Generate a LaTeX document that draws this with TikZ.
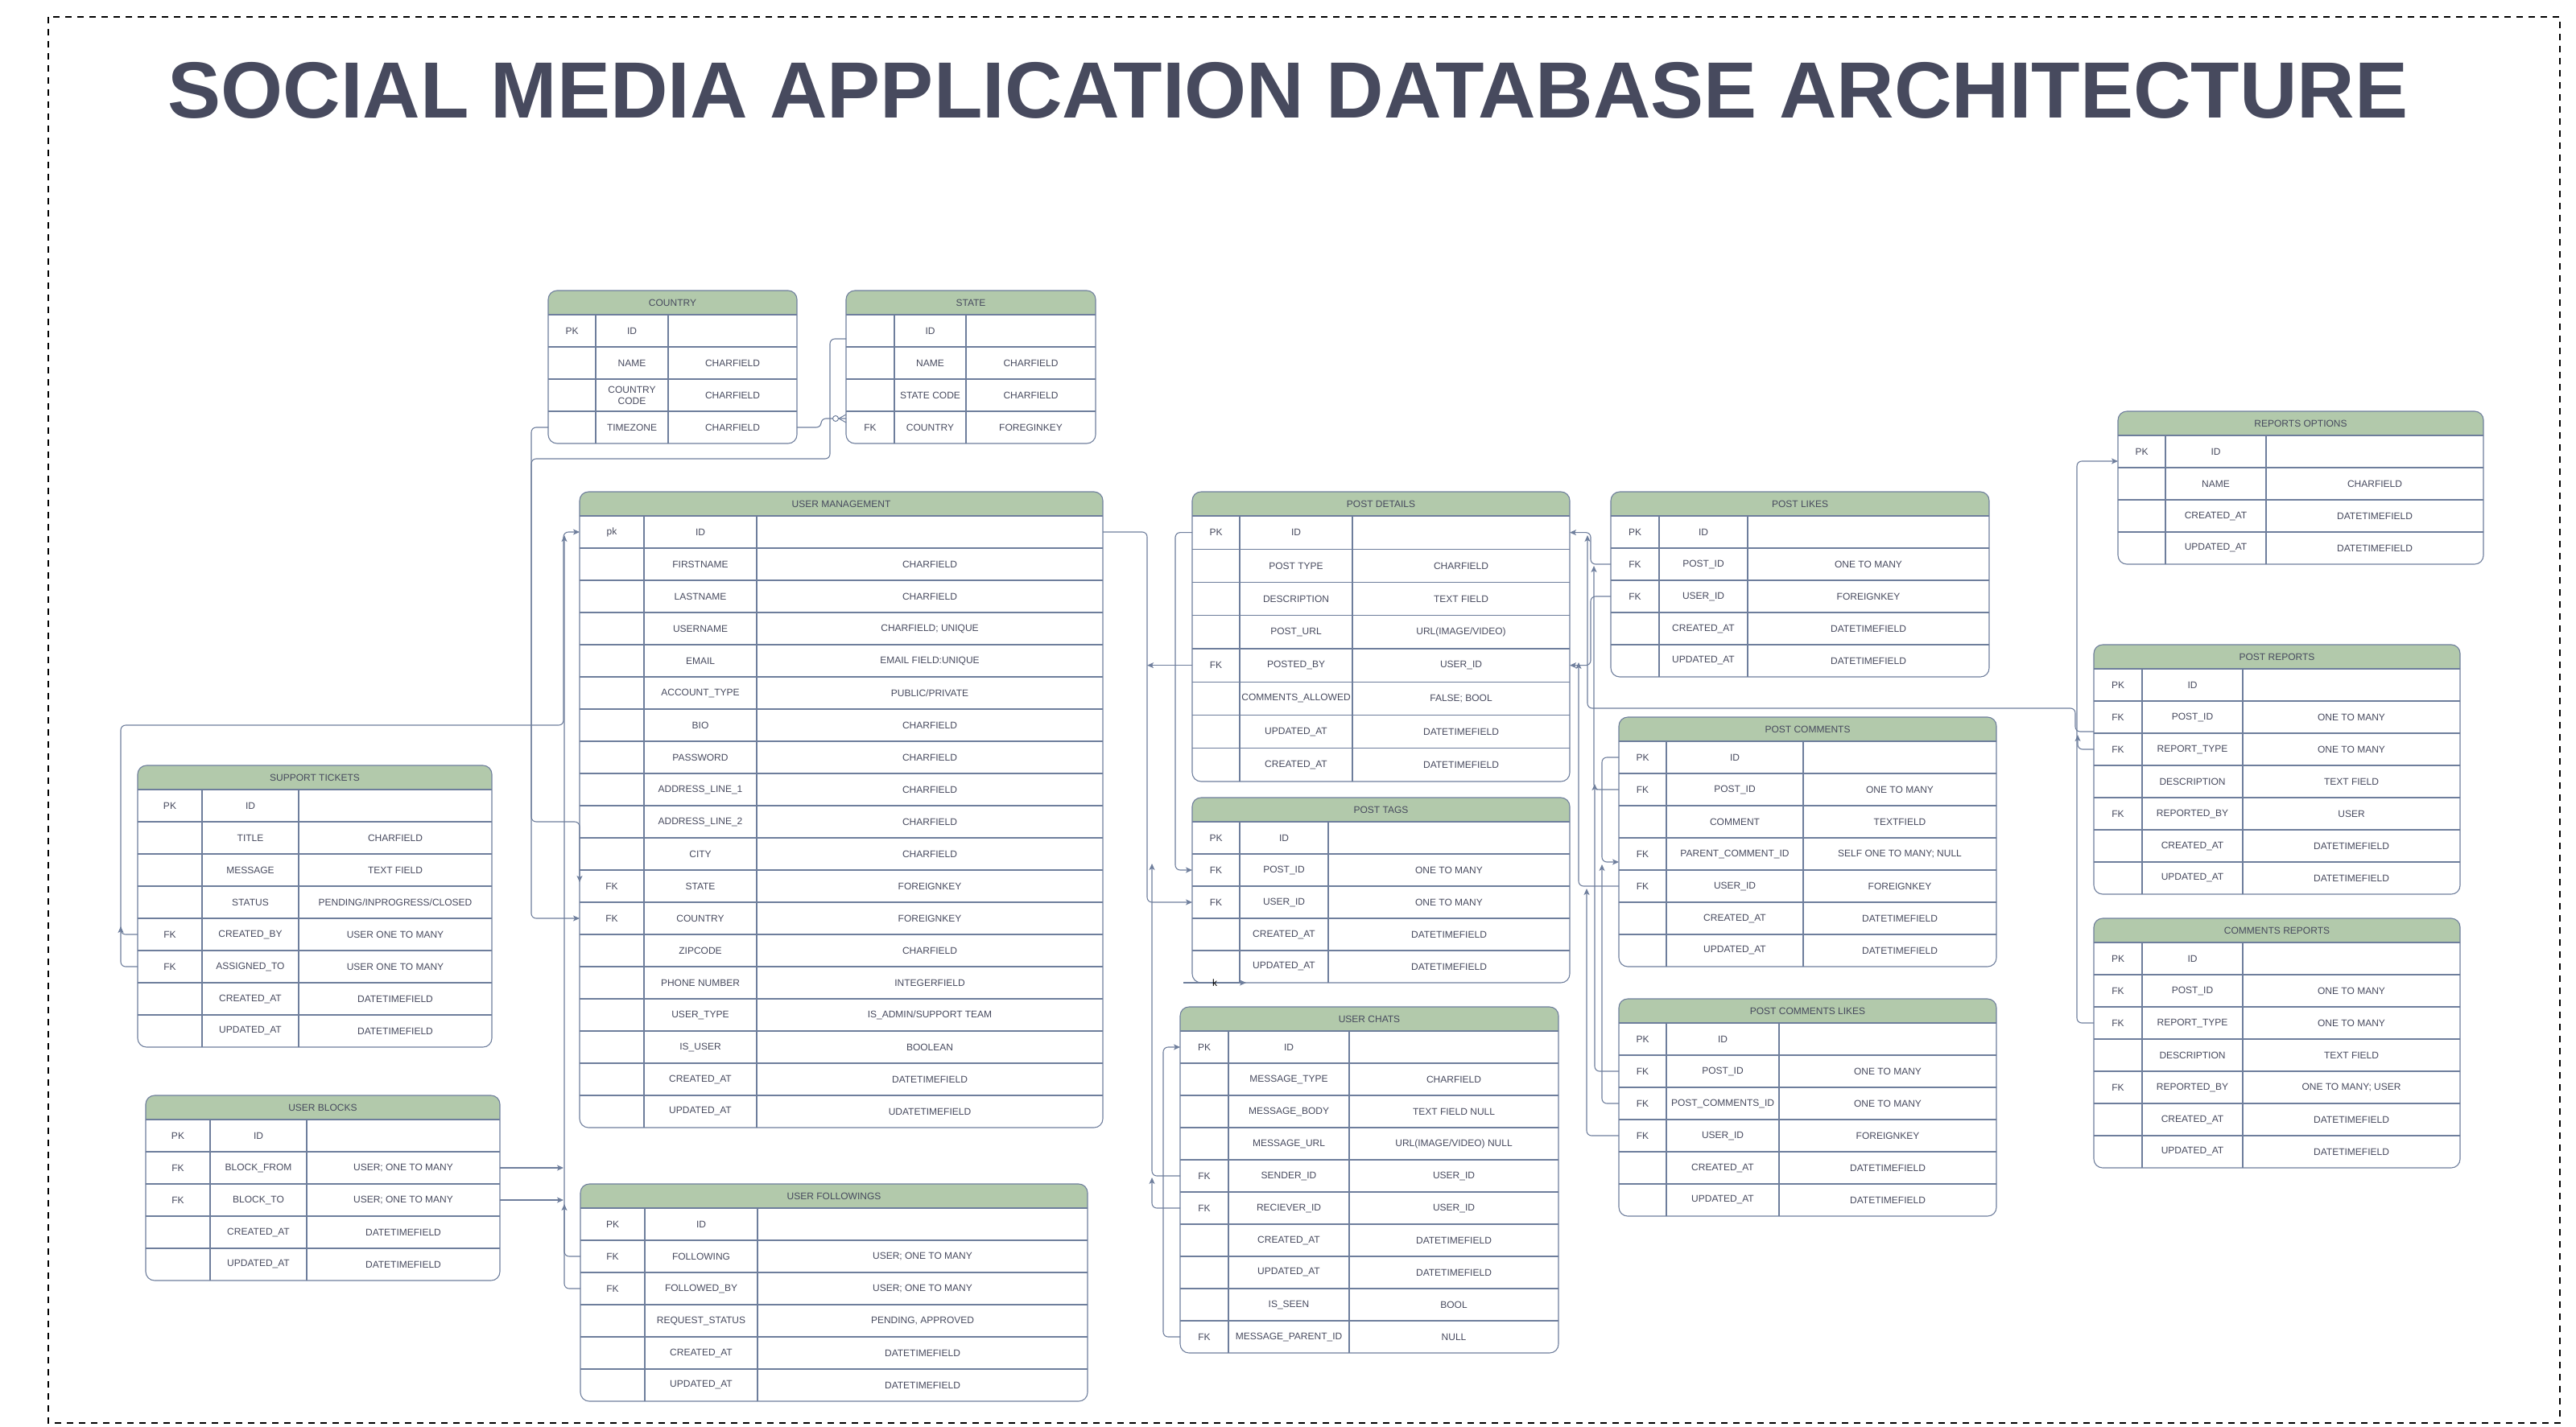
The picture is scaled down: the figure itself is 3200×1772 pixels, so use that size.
\documentclass[tikz,border=0pt]{standalone}
\usepackage{fontspec}
\setmainfont{Liberation Sans}
\usetikzlibrary{arrows.meta}
\definecolor{MyLine}{HTML}{6E7E9C}
\definecolor{MyHead}{HTML}{B2C9AB}
\definecolor{MyText}{HTML}{474A5E}
\newcommand{\cellfont}{\fontsize{12}{14}\selectfont}
\tikzset{%
  connector/.style={draw=MyLine, line width=1.1pt, rounded corners=6pt},
  link/.style={connector, -{Stealth[length=8pt,width=7pt,inset=2pt]}},
  tblline/.style={draw=MyLine, line width=1.1pt},
  tblcell/.style={inner sep=1pt, outer sep=0pt, align=center, text=MyText, font=\cellfont},
  tblhead/.style={tblcell, minimum height=30pt},
  bigtitle/.style={font=\fontsize{99}{110}\selectfont\bfseries, text=MyText, inner sep=0pt},
  pageframe/.style={draw=black, line width=2.5pt, dash pattern=on 8pt off 7pt}
}
% #1 name, #2 x, #3 y, #4 #5 #6 column widths, #7 row height, #8 title, #9 rows
\newcommand{\dbtable}[9]{%
  \begin{scope}
    \clip[rounded corners=11pt] (#2,#3) rectangle ++({#4+#5+#6},60);
    \fill[MyHead] (#2,#3) rectangle ++({#4+#5+#6},30);
  \end{scope}
  \node[tblhead, minimum width={(#4+#5+#6)*1pt}, anchor=north west] (#1) at (#2,#3) {#8};
  \foreach \dkey/\dfield/\dtype [count=\rownum] in {#9} {
    \node[tblcell, minimum width=#4pt, minimum height=#7pt, anchor=north west]
      (#1-\rownum) at (#2,{#3+30+(\rownum-1)*#7}) {\dkey};
    \node[tblcell, minimum width=#5pt, minimum height=#7pt, anchor=west]
      (#1-\rownum-f) at (#1-\rownum.east) {\dfield};
    \node[tblcell, minimum width=#6pt, minimum height=#7pt, anchor=west]
      (#1-\rownum-t) at (#1-\rownum-f.east) {\dtype};
    \draw[tblline] (#1-\rownum.north west) -- (#1-\rownum-t.north east);
    \draw[tblline] (#1-\rownum-f.north west) -- (#1-\rownum-f.south west)
                   (#1-\rownum-f.north east) -- (#1-\rownum-f.south east);
    \xdef\dblast{\rownum}
  }
  \draw[tblline, rounded corners=11pt] (#1.north west) rectangle (#1-\dblast-t.south east);
}

\begin{document}
\begin{tikzpicture}[x=1pt, y=-1pt]

 \useasboundingbox (0,0) rectangle (3200,1772);
 \draw[pageframe] (60,21) rectangle (3180,1768);

 \node[bigtitle, anchor=base] (heading) at (1600,146) {SOCIAL MEDIA APPLICATION DATABASE ARCHITECTURE};

 % location tables
 \dbtable{country}{681}{361}{59}{90}{160}{40}{COUNTRY}{PK/ID/{}, {}/NAME/CHARFIELD,
   {}/{COUNTRY\\CODE}/CHARFIELD, {}/TIMEZONE/CHARFIELD}
 \dbtable{state}{1051}{361}{60}{89}{161}{40}{STATE}{{}/ID/{}, {}/NAME/CHARFIELD,
   {}/STATE CODE/CHARFIELD, FK/COUNTRY/FOREGINKEY}

 % users
 \dbtable{um}{720}{611}{80}{140}{430}{40}{USER MANAGEMENT}{pk/ID/{},
   {}/FIRSTNAME/CHARFIELD, {}/LASTNAME/CHARFIELD, {}/USERNAME/{CHARFIELD; UNIQUE},
   {}/EMAIL/{EMAIL FIELD:UNIQUE}, {}/ACCOUNT\_TYPE/{PUBLIC/PRIVATE}, {}/BIO/CHARFIELD,
   {}/PASSWORD/CHARFIELD, {}/ADDRESS\_LINE\_1/CHARFIELD, {}/ADDRESS\_LINE\_2/CHARFIELD,
   {}/CITY/CHARFIELD, FK/STATE/FOREIGNKEY, FK/COUNTRY/FOREIGNKEY, {}/ZIPCODE/CHARFIELD,
   {}/PHONE NUMBER/INTEGERFIELD, {}/USER\_TYPE/{IS\_ADMIN/SUPPORT TEAM},
   {}/IS\_USER/BOOLEAN, {}/CREATED\_AT/DATETIMEFIELD, {}/UPDATED\_AT/UDATETIMEFIELD}
 \dbtable{st}{171}{951}{80}{120}{240}{40}{SUPPORT TICKETS}{PK/ID/{},
   {}/TITLE/CHARFIELD, {}/MESSAGE/TEXT FIELD, {}/STATUS/{PENDING/INPROGRESS/CLOSED},
   FK/CREATED\_BY/USER ONE TO MANY, FK/ASSIGNED\_TO/USER ONE TO MANY,
   {}/CREATED\_AT/DATETIMEFIELD, {}/UPDATED\_AT/DATETIMEFIELD}
 \dbtable{ub}{181}{1361}{80}{120}{240}{40}{USER BLOCKS}{PK/ID/{},
   FK/BLOCK\_FROM/USER; ONE TO MANY, FK/BLOCK\_TO/USER; ONE TO MANY,
   {}/CREATED\_AT/DATETIMEFIELD, {}/UPDATED\_AT/DATETIMEFIELD}
 \dbtable{uf}{721}{1471}{80}{140}{410}{40}{USER FOLLOWINGS}{PK/ID/{},
   FK/FOLLOWING/USER; ONE TO MANY, FK/FOLLOWED\_BY/USER; ONE TO MANY,
   {}/REQUEST\_STATUS/{PENDING, APPROVED}, {}/CREATED\_AT/DATETIMEFIELD,
   {}/UPDATED\_AT/DATETIMEFIELD}

 % posts and chats
 \dbtable{pd}{1481}{611}{59}{140}{270}{41.25}{POST DETAILS}{PK/ID/{},
   {}/POST TYPE/CHARFIELD, {}/DESCRIPTION/TEXT FIELD, {}/POST\_URL/{URL(IMAGE/VIDEO)},
   FK/POSTED\_BY/USER\_ID, {}/COMMENTS\_ALLOWED/FALSE; BOOL,
   {}/UPDATED\_AT/DATETIMEFIELD, {}/CREATED\_AT/DATETIMEFIELD}
 \dbtable{pt}{1481}{991}{59}{110}{300}{40}{POST TAGS}{PK/ID/{},
   FK/POST\_ID/ONE TO MANY, FK/USER\_ID/ONE TO MANY,
   {}/CREATED\_AT/DATETIMEFIELD, {}/UPDATED\_AT/DATETIMEFIELD}
 \dbtable{uc}{1466}{1251}{60}{150}{260}{40}{USER CHATS}{PK/ID/{},
   {}/MESSAGE\_TYPE/CHARFIELD, {}/MESSAGE\_BODY/TEXT FIELD NULL,
   {}/MESSAGE\_URL/{URL(IMAGE/VIDEO) NULL}, FK/SENDER\_ID/USER\_ID,
   FK/RECIEVER\_ID/USER\_ID, {}/CREATED\_AT/DATETIMEFIELD, {}/UPDATED\_AT/DATETIMEFIELD,
   {}/IS\_SEEN/BOOL, FK/MESSAGE\_PARENT\_ID/NULL}
 \dbtable{pl}{2001}{611}{60}{110}{300}{40}{POST LIKES}{PK/ID/{},
   FK/POST\_ID/ONE TO MANY, FK/USER\_ID/FOREIGNKEY,
   {}/CREATED\_AT/DATETIMEFIELD, {}/UPDATED\_AT/DATETIMEFIELD}
 \dbtable{pc}{2011}{891}{59}{170}{240}{40}{POST COMMENTS}{PK/ID/{},
   FK/POST\_ID/ONE TO MANY, {}/COMMENT/TEXTFIELD,
   FK/PARENT\_COMMENT\_ID/SELF ONE TO MANY; NULL, FK/USER\_ID/FOREIGNKEY,
   {}/CREATED\_AT/DATETIMEFIELD, {}/UPDATED\_AT/DATETIMEFIELD}
 \dbtable{pcl}{2011}{1241}{59}{140}{270}{40}{POST COMMENTS LIKES}{PK/ID/{},
   FK/POST\_ID/ONE TO MANY, FK/POST\_COMMENTS\_ID/ONE TO MANY, FK/USER\_ID/FOREIGNKEY,
   {}/CREATED\_AT/DATETIMEFIELD, {}/UPDATED\_AT/DATETIMEFIELD}

 % reports
 \dbtable{ro}{2631}{511}{59}{125}{270}{40}{REPORTS OPTIONS}{PK/ID/{},
   {}/NAME/CHARFIELD, {}/CREATED\_AT/DATETIMEFIELD, {}/UPDATED\_AT/DATETIMEFIELD}
 \dbtable{pr}{2601}{801}{60}{125}{270}{40}{POST REPORTS}{PK/ID/{},
   FK/POST\_ID/ONE TO MANY, FK/REPORT\_TYPE/ONE TO MANY, {}/DESCRIPTION/TEXT FIELD,
   FK/REPORTED\_BY/USER, {}/CREATED\_AT/DATETIMEFIELD, {}/UPDATED\_AT/DATETIMEFIELD}
 \dbtable{cr}{2601}{1141}{60}{125}{270}{40}{COMMENTS REPORTS}{PK/ID/{},
   FK/POST\_ID/ONE TO MANY, FK/REPORT\_TYPE/ONE TO MANY, {}/DESCRIPTION/TEXT FIELD,
   FK/REPORTED\_BY/ONE TO MANY; USER, {}/CREATED\_AT/DATETIMEFIELD,
   {}/UPDATED\_AT/DATETIMEFIELD}

 % country / state
 \coordinate (cfoot) at ([yshift=11pt]state-4.west);
 \draw[connector] (country-4-t.east) -- ++(30,0) |- (cfoot);
 \draw[tblline, line width=1pt] ([xshift=-9pt]cfoot) -- ([yshift=5pt]cfoot)
   ([xshift=-9pt]cfoot) -- ([yshift=-5pt]cfoot);
 \draw[tblline, line width=1pt, fill=white] ([xshift=-13pt]cfoot) circle (3.5pt);
 \draw[link] (country-4.west) -- ++(-21,0) |- (um-13.west);
 \draw[link] ([yshift=-10pt]state-1.west) -- ++(-20,0) -- ++(0,149)
   -| ([xshift=-60pt]um-10.west) -- (um-10.west) -- ([yshift=5pt]um-12.west);

 % users
 \draw[link] (st-6.west) -- ++(-21,0) -- ++(0,-300) -| ([xshift=-20pt]um-1.west) -- (um-1.west);
 \draw[link] (st-5.west) -- ++(-21,0) -- ++(0,-10);
 \draw[link] (ub-2-t.east) -- ++(79,0);
 \draw[link] (ub-3-t.east) -- ++(79,0);
 \draw[link] (uf-2.west) -- ++(-20,0) -- ++(0,-896);
 \draw[link] (uf-3.west) -- ++(-20,0) -- ++(0,-105);

 % posts, tags, chats
 \draw[link] (um-1-t.east) -- ++(55,0) |- (pt-3.west);
 \draw[link] (pd-5.west) -- ++(-56,0);
 \draw[link] (pd-1.west) -- ++(-21,0) |- (pt-2.west);
 \draw[link, rounded corners=0pt] ([xshift=-11pt]pt-5.south west) -- ([xshift=8pt]pt-5-f.south west)
   node[midway, font=\cellfont, text=black, inner sep=0pt] {k};
 \draw[link] (uc-5.west) -- ++(-35,0) -- ++(0,-388);
 \draw[link] (uc-6.west) -- ++(-35,0) -- ++(0,-38);
 \draw[link] (uc-10.west) -- ++(-21,0) |- (uc-1.west);

 % likes, comments
 \draw[link] (pl-2.west) -- ++(-25,0) |- (pd-1-t.east);
 \draw[link] (pl-3.west) -- ++(-25,0) |- (pd-5-t.east);
 \draw[link] (pc-2.west) -- ++(-31,0) -- ++(0,-278);
 \draw[link] (pc-5.west) -- ++(-50,0) -- ++(0,-278);
 \draw[link] (pc-1.west) -- ++(-21,0) |- ([yshift=-10pt]pc-4.west);
 \draw[link] (pcl-2.west) -- ++(-30,0) -- ++(0,-357);
 \draw[link] (pcl-3.west) -- ++(-21,0) -- ++(0,-297);
 \draw[link] (pcl-4.west) -- ++(-40,0) -- ++(0,-307);

 % reports
 \draw[link] ([yshift=-18pt]pr-2.west) -- ++(-23,0) -- ++(0,-29) -- ++(-606,0) -- ++(0,-215);
 \draw[link] (pr-3.west) -- ++(-20,0) -- ++(0,-18);
 \draw[link] (cr-3.west) -- ++(-21,0) |- ([yshift=-12pt]ro-1.west);

\end{tikzpicture}
\end{document}
